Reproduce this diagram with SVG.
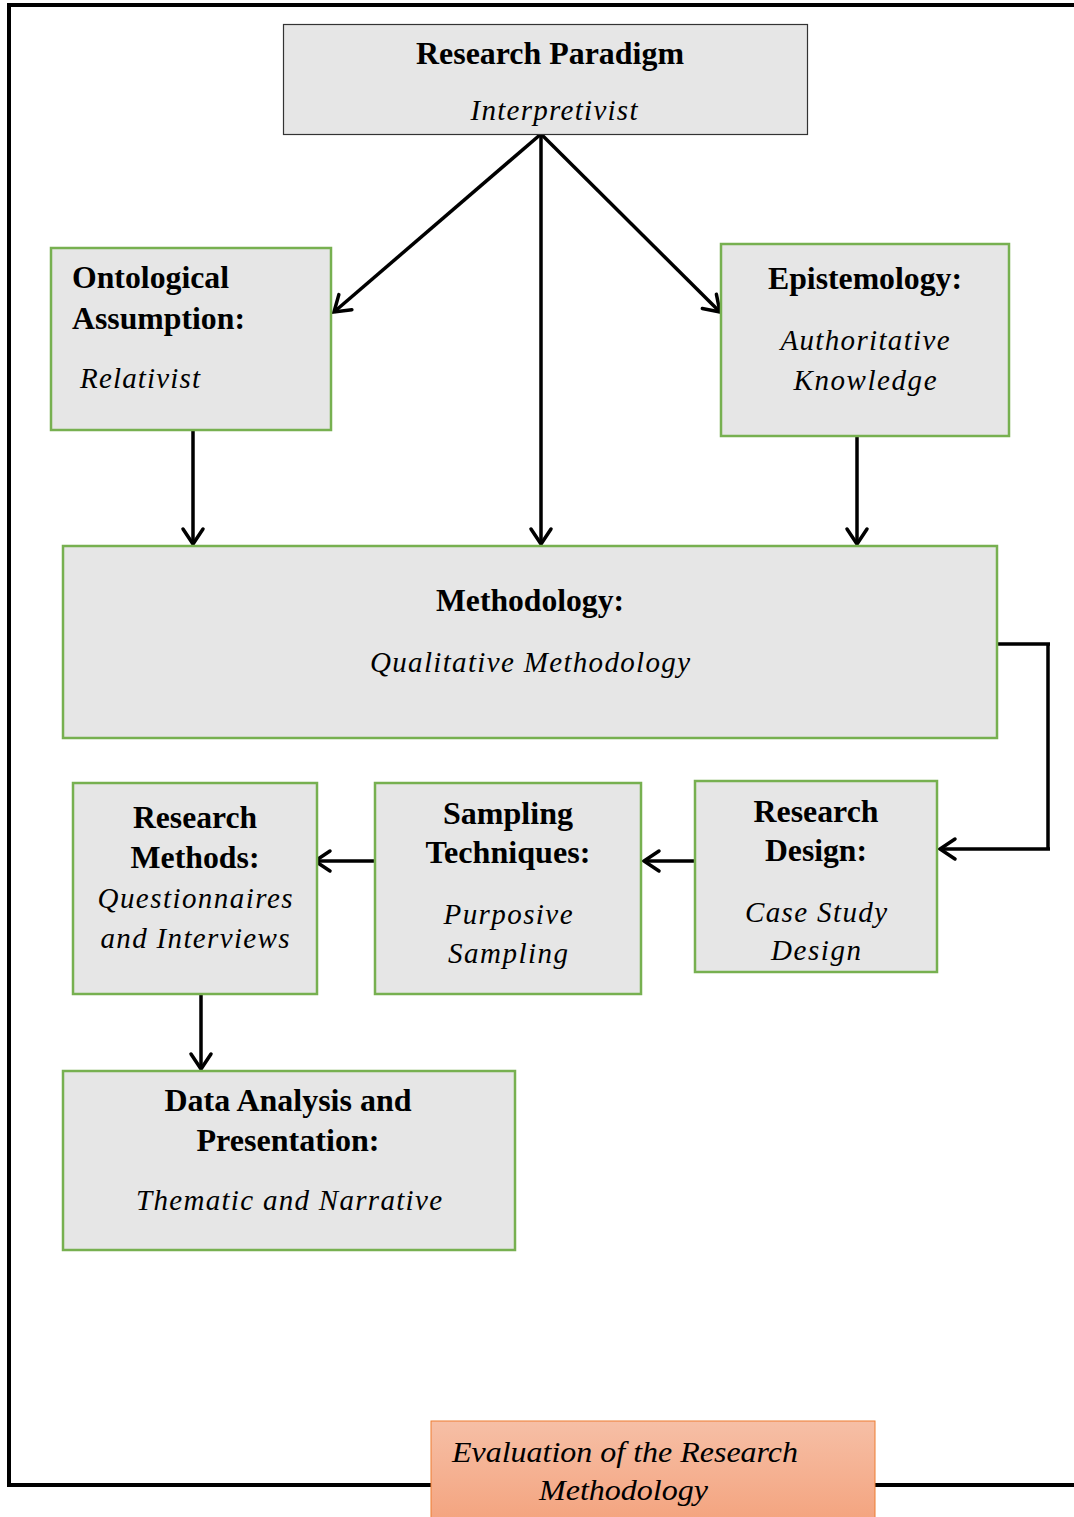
<svg xmlns="http://www.w3.org/2000/svg" width="1074" height="1517" viewBox="0 0 1074 1517">
<defs>
<style>
.box{fill:#e6e6e6;stroke:#77b050;stroke-width:2.5}
.b{font-family:"Liberation Serif","Times New Roman",serif;font-weight:bold;font-size:31px;fill:#000}
.i{font-family:"Liberation Serif","Times New Roman",serif;font-style:italic;font-size:29px;fill:#000}
.c{text-anchor:middle}
.conn{fill:none;stroke:#000;stroke-width:3.5}
</style>
<marker id="ah" markerUnits="userSpaceOnUse" markerWidth="26" markerHeight="26" viewBox="0 0 26 26" refX="22" refY="13" orient="auto">
<path d="M7,3 L22,13 L7,23" fill="none" stroke="#000" stroke-width="3.5" stroke-linecap="round"/>
</marker>
<linearGradient id="og" x1="0" y1="0" x2="0" y2="1">
<stop offset="0" stop-color="#f6bfa6"/>
<stop offset="1" stop-color="#f4a47f"/>
</linearGradient>
</defs>
<rect width="1074" height="1517" fill="#fff"/>
<g id="frame">
<path d="M1074,5 L9,5 L9,1485 L1074,1485" fill="none" stroke="#000" stroke-width="4"/>
</g>
<g id="connectors">
<line class="conn" x1="541" y1="134" x2="334" y2="312" marker-end="url(#ah)"/>
<line class="conn" x1="541" y1="134" x2="541" y2="544" marker-end="url(#ah)"/>
<line class="conn" x1="541" y1="134" x2="720" y2="312" marker-end="url(#ah)"/>
<line class="conn" x1="193" y1="430" x2="193" y2="544" marker-end="url(#ah)"/>
<line class="conn" x1="857" y1="436" x2="857" y2="544" marker-end="url(#ah)"/>
<path class="conn" d="M997,644 L1050,644 M1048,644 L1048,849 M1050,849 L940,849" marker-end="url(#ah)"/>
<line class="conn" x1="695" y1="861" x2="644" y2="861" marker-end="url(#ah)"/>
<line class="conn" x1="375" y1="861" x2="315" y2="861" marker-end="url(#ah)"/>
<line class="conn" x1="201" y1="994" x2="201" y2="1069" marker-end="url(#ah)"/>
</g>
<g id="paradigm">
<rect x="283.5" y="24.5" width="524" height="110" fill="#e6e6e6" stroke="#333" stroke-width="1.2"/>
<text class="b c" x="550" y="64" textLength="268" lengthAdjust="spacingAndGlyphs">Research Paradigm</text>
<text class="i c" x="554" y="120" textLength="167" lengthAdjust="spacing">Interpretivist</text>
</g>
<g id="ontological">
<rect class="box" x="51" y="248" width="280" height="182"/>
<text class="b" x="72" y="288" textLength="157" lengthAdjust="spacingAndGlyphs">Ontological</text>
<text class="b" x="72" y="329" textLength="173" lengthAdjust="spacingAndGlyphs">Assumption:</text>
<text class="i" x="80" y="388" textLength="120" lengthAdjust="spacing">Relativist</text>
</g>
<g id="epistemology">
<rect class="box" x="721" y="244" width="288" height="192"/>
<text class="b c" x="865" y="289" textLength="194" lengthAdjust="spacingAndGlyphs">Epistemology:</text>
<text class="i c" x="865" y="350" textLength="169" lengthAdjust="spacing">Authoritative</text>
<text class="i c" x="865" y="390" textLength="143" lengthAdjust="spacing">Knowledge</text>
</g>
<g id="methodology">
<rect class="box" x="63" y="546" width="934" height="192"/>
<text class="b c" x="530" y="611" textLength="188" lengthAdjust="spacingAndGlyphs">Methodology:</text>
<text class="i c" x="530" y="672" textLength="320" lengthAdjust="spacing">Qualitative Methodology</text>
</g>
<g id="methods">
<rect class="box" x="73" y="783" width="244" height="211"/>
<text class="b c" x="195" y="828" textLength="124" lengthAdjust="spacingAndGlyphs">Research</text>
<text class="b c" x="195" y="868" textLength="129" lengthAdjust="spacingAndGlyphs">Methods:</text>
<text class="i c" x="195" y="908" textLength="195" lengthAdjust="spacing">Questionnaires</text>
<text class="i c" x="195" y="948" textLength="189" lengthAdjust="spacing">and Interviews</text>
</g>
<g id="sampling">
<rect class="box" x="375" y="783" width="266" height="211"/>
<text class="b c" x="508" y="824" textLength="130" lengthAdjust="spacingAndGlyphs">Sampling</text>
<text class="b c" x="508" y="863" textLength="165" lengthAdjust="spacingAndGlyphs">Techniques:</text>
<text class="i c" x="508" y="924" textLength="129" lengthAdjust="spacing">Purposive</text>
<text class="i c" x="508" y="963" textLength="120" lengthAdjust="spacing">Sampling</text>
</g>
<g id="design">
<rect class="box" x="695" y="781" width="242" height="191"/>
<text class="b c" x="816" y="822" textLength="125" lengthAdjust="spacingAndGlyphs">Research</text>
<text class="b c" x="816" y="861" textLength="102" lengthAdjust="spacingAndGlyphs">Design:</text>
<text class="i c" x="816" y="922" textLength="142" lengthAdjust="spacing">Case Study</text>
<text class="i c" x="816" y="960" textLength="90" lengthAdjust="spacing">Design</text>
</g>
<g id="analysis">
<rect class="box" x="63" y="1071" width="452" height="179"/>
<text class="b c" x="288" y="1111" textLength="247" lengthAdjust="spacingAndGlyphs">Data Analysis and</text>
<text class="b c" x="288" y="1151" textLength="183" lengthAdjust="spacingAndGlyphs">Presentation:</text>
<text class="i c" x="289" y="1210" textLength="306" lengthAdjust="spacing">Thematic and Narrative</text>
</g>
<g id="evaluation">
<rect x="431" y="1421" width="444" height="100" fill="url(#og)" stroke="#ed7d31" stroke-width="1"/>
<text class="i" x="452" y="1462" textLength="346" lengthAdjust="spacingAndGlyphs">Evaluation of the Research</text>
<text class="i" x="539" y="1500" textLength="169" lengthAdjust="spacingAndGlyphs">Methodology</text>
</g>
</svg>
